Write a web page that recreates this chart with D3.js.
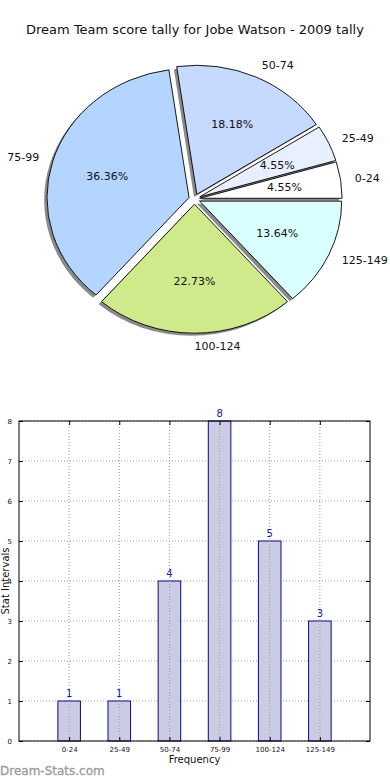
<!DOCTYPE html>
<html>
<head>
<meta charset="utf-8">
<script src="https://cdn.jsdelivr.net/npm/d3@7"></script>
<style>
  body { margin: 0; background: #fff; }
  svg { display: block; font-family: "DejaVu Sans", sans-serif; }
</style>
</head>
<body>
<div id="chart"></div>
<script>
// score intervals and how many games fell in each
const categories = ["0-24", "25-49", "50-74", "75-99", "100-124", "125-149"];
const counts = [1, 1, 4, 8, 5, 3];
const sliceColors = ["#ffffff", "#e8f0ff", "#c6d9ff", "#b3d5ff", "#cfea8b", "#d9ffff"];
const yTicks = [0, 1, 2, 3, 4, 5, 6, 7, 8];
const title = "Dream Team score tally for Jobe Watson - 2009 tally";

const width = 390, height = 780;
const svg = d3.select("#chart").append("svg")
  .attr("width", width)
  .attr("height", height);

svg.append("text")
  .attr("x", 195).attr("y", 34)
  .attr("text-anchor", "middle")
  .attr("font-size", 13)
  .attr("fill", "#111")
  .text(title);

// ---- pie (matplotlib style: starts at 3 o'clock, counter clockwise, elliptical)
const cx = 194.5, cy = 199, rx = 142, ry = 129, explode = 0.04;

const pie = d3.pie().sort(null)
  .startAngle(Math.PI / 2)
  .endAngle(Math.PI / 2 - 2 * Math.PI)
  .value(d => d);
const arcs = pie(counts);
const total = d3.sum(counts);
const arc = d3.arc().innerRadius(0).outerRadius(1);

const pieG = svg.append("g");

const off = d => {
  const m = (d.startAngle + d.endAngle) / 2;
  return [Math.sin(m), -Math.cos(m)];
};

// shadows first
pieG.selectAll("path.shadow")
  .data(arcs)
  .enter().append("path")
  .attr("class", "shadow")
  .attr("d", arc)
  .attr("transform", d => {
    const [ux, uy] = off(d);
    return `translate(${cx + ux * rx * explode - 0.02 * rx},${cy + uy * ry * explode + 0.02 * ry}) scale(${rx},${ry})`;
  })
  .attr("fill", "#8a8a8a");

pieG.selectAll("path.slice")
  .data(arcs)
  .enter().append("path")
  .attr("class", "slice")
  .attr("d", arc)
  .attr("transform", d => {
    const [ux, uy] = off(d);
    return `translate(${cx + ux * rx * explode},${cy + uy * ry * explode}) scale(${rx},${ry})`;
  })
  .attr("fill", (d, i) => sliceColors[i])
  .attr("stroke", "#000")
  .attr("stroke-width", 0.9)
  .attr("vector-effect", "non-scaling-stroke");

// outer labels
pieG.selectAll("text.lab")
  .data(arcs)
  .enter().append("text")
  .attr("class", "lab")
  .attr("x", d => { const [ux] = off(d); return cx + ux * rx * (explode + 1.1); })
  .attr("y", d => { const [, uy] = off(d); return cy + uy * ry * (explode + 1.1); })
  .attr("dy", "0.35em")
  .attr("text-anchor", d => off(d)[0] > -1e-6 ? "start" : "end")
  .attr("font-size", 11)
  .attr("fill", "#111")
  .text((d, i) => categories[i]);

// percentages
pieG.selectAll("text.pct")
  .data(arcs)
  .enter().append("text")
  .attr("class", "pct")
  .attr("x", d => { const [ux] = off(d); return cx + ux * rx * (explode + 0.6); })
  .attr("y", d => { const [, uy] = off(d); return cy + uy * ry * (explode + 0.6); })
  .attr("dy", "0.35em")
  .attr("text-anchor", "middle")
  .attr("font-size", 11)
  .attr("fill", "#111")
  .text(d => (d.value / total * 100).toFixed(2) + "%");

// ---- bar chart
const axL = 19, axR = 370, axT = 421, axB = 741;
const x = d3.scaleLinear().domain([0, 7]).range([axL, axR]);
const y = d3.scaleLinear().domain([0, 8]).range([axB, axT]);
const barW = 0.45;
const positions = categories.map((c, i) => i + 1);

const g = svg.append("g");

// grid
g.selectAll("line.vgrid")
  .data(positions)
  .enter().append("line")
  .attr("x1", d => x(d)).attr("x2", d => x(d))
  .attr("y1", axT).attr("y2", axB)
  .attr("stroke", "#9a9a9a").attr("stroke-width", 1)
  .attr("stroke-dasharray", "1,2");

g.selectAll("line.hgrid")
  .data(yTicks)
  .enter().append("line")
  .attr("x1", axL).attr("x2", axR)
  .attr("y1", d => y(d)).attr("y2", d => y(d))
  .attr("stroke", "#9a9a9a").attr("stroke-width", 1)
  .attr("stroke-dasharray", "1,2");

// bars
g.selectAll("rect.bar")
  .data(counts)
  .enter().append("rect")
  .attr("x", (d, i) => x(positions[i] - barW / 2))
  .attr("width", x(barW) - x(0))
  .attr("y", d => y(d))
  .attr("height", d => y(0) - y(d))
  .attr("fill", "#cbcce3")
  .attr("stroke", "#0a0a8c")
  .attr("stroke-width", 1);

// grid shows through the bars
g.selectAll("line.vgrid2")
  .data(positions)
  .enter().append("line")
  .attr("x1", d => x(d)).attr("x2", d => x(d))
  .attr("y1", (d, i) => y(counts[i])).attr("y2", axB)
  .attr("stroke", "#9a9a9a").attr("stroke-width", 1)
  .attr("stroke-dasharray", "1,2");

// value labels
g.selectAll("text.val")
  .data(counts)
  .enter().append("text")
  .attr("x", (d, i) => x(positions[i]))
  .attr("y", d => y(d) - 4)
  .attr("text-anchor", "middle")
  .attr("font-size", 10)
  .attr("fill", "#1a1a99")
  .text(d => d);

// axes frame
g.append("rect")
  .attr("x", axL).attr("y", axT)
  .attr("width", axR - axL).attr("height", axB - axT)
  .attr("fill", "none").attr("stroke", "#000").attr("stroke-width", 1);

// inward ticks on all sides
const bottomAxis = d3.axisBottom(x).tickValues(positions).tickSize(-4).tickPadding(6)
  .tickFormat((d, i) => categories[i]);
const topAxis = d3.axisTop(x).tickValues(positions).tickSize(-4).tickFormat("");
const leftAxis = d3.axisLeft(y).tickValues(yTicks).tickSize(-4).tickPadding(7).tickFormat(d3.format("d"));
const rightAxis = d3.axisRight(y).tickValues(yTicks).tickSize(-4).tickFormat("");

[[bottomAxis, `translate(0,${axB})`], [topAxis, `translate(0,${axT})`],
 [leftAxis, `translate(${axL},0)`], [rightAxis, `translate(${axR},0)`]].forEach(([ax, tr]) => {
  const a = g.append("g").attr("transform", tr).call(ax);
  a.select(".domain").remove();
  a.selectAll("line").attr("stroke", "#000");
  a.selectAll("text").attr("font-size", 7).attr("font-family", "DejaVu Sans, sans-serif").attr("fill", "#111");
});

svg.append("text")
  .attr("x", (axL + axR) / 2).attr("y", 763)
  .attr("text-anchor", "middle")
  .attr("font-size", 10)
  .attr("fill", "#111")
  .text("Frequency");

svg.append("text")
  .attr("transform", `translate(9,${(axT + axB) / 2}) rotate(-90)`)
  .attr("text-anchor", "middle")
  .attr("font-size", 10)
  .attr("fill", "#111")
  .text("Stat Intervals");

svg.append("text")
  .attr("x", 0).attr("y", 775)
  .attr("font-size", 12)
  .attr("fill", "#9a9a9a")
  .attr("stroke", "#9a9a9a")
  .attr("stroke-width", 0.3)
  .text("Dream-Stats.com");
</script>
</body>
</html>
